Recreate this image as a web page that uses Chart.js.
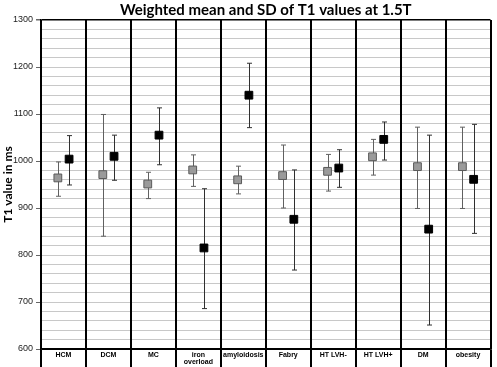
<!DOCTYPE html>
<html>
<head>
<meta charset="utf-8">
<script src="https://cdn.jsdelivr.net/npm/chart.js@4"></script>
<style>
  html, body { margin: 0; padding: 0; background: #fff; }
  #wrap { width: 497px; height: 367px; }
</style>
</head>
<body>
<div id="wrap"><canvas id="chart"></canvas></div>
<script>
// categories (x axis)
const categories = ['HCM', 'DCM', 'MC', ['iron', 'overload'], 'amyloidosis', 'Fabry', 'HT LVH-', 'HT LVH+', 'DM', 'obesity'];

// grey series: mean and SD range
const grayMean = [964, 971, 951, 981, 960, 969, 978, 1009, 988, 988];
const grayLow  = [925, 840, 920, 946, 930, 900, 936, 970, 899, 899];
const grayHigh = [998, 1099, 976, 1013, 989, 1034, 1014, 1046, 1072, 1072];

// black series: mean and SD range
const blackMean = [1004, 1010, 1055, 815, 1140, 876, 985, 1046, 855, 961];
const blackLow  = [949, 959, 992, 686, 1071, 768, 944, 1002, 651, 846];
const blackHigh = [1054, 1055, 1113, 941, 1208, 981, 1024, 1083, 1055, 1078];

// y axis
const yMin = 600;
const yMax = 1300;
const yStep = 20;

function toPoints(values, offset) {
    return values.map((v, i) => ({ x: i + offset, y: v }));
}

// error bars drawn through the chart's own scales
const errorBars = {
    id: 'errorBars',
    beforeDatasetsDraw(chart) {
        const ctx = chart.ctx;
        const xs = chart.scales.x;
        const ys = chart.scales.y;
        chart.data.datasets.forEach(ds => {
            ctx.save();
            ctx.strokeStyle = ds.errColor;
            ctx.lineWidth = 1;
            ds.data.forEach((p, i) => {
                const x = Math.round(xs.getPixelForValue(p.x)) + 0.5;
                const top = ys.getPixelForValue(ds.high[i]);
                const bot = ys.getPixelForValue(ds.low[i]);
                ctx.beginPath();
                ctx.moveTo(x, top);
                ctx.lineTo(x, bot);
                ctx.moveTo(x - 2.5, top);
                ctx.lineTo(x + 2.5, top);
                ctx.moveTo(x - 2.5, bot);
                ctx.lineTo(x + 2.5, bot);
                ctx.stroke();
            });
            ctx.restore();
        });
    }
};

new Chart(document.getElementById('chart'), {
    type: 'scatter',
    data: {
        datasets: [{
            label: 'grey',
            data: toPoints(grayMean, 0.375),
            low: grayLow,
            high: grayHigh,
            errColor: '#606060',
            pointStyle: 'rect',
            pointRadius: 5.5,
            pointHoverRadius: 5.5,
            backgroundColor: '#9a9a9a',
            borderColor: '#5a5a5a',
            borderWidth: 1
        }, {
            label: 'black',
            data: toPoints(blackMean, 0.625),
            low: blackLow,
            high: blackHigh,
            errColor: '#303030',
            pointStyle: 'rect',
            pointRadius: 5.5,
            pointHoverRadius: 5.5,
            backgroundColor: '#000000',
            borderColor: '#000000',
            borderWidth: 1
        }]
    },
    options: {
        responsive: true,
        maintainAspectRatio: false,
        animation: false,
        layout: { padding: { left: 0, right: 2, top: 0, bottom: 0 } },
        plugins: {
            legend: { display: false },
            tooltip: { enabled: false },
            title: {
                display: true,
                fullSize: false,
                text: 'Weighted mean and SD of T1 values at 1.5T',
                color: '#000',
                font: { family: 'Lato', size: 15, weight: 'bold' },
                padding: { top: 1, bottom: 1 }
            }
        },
        scales: {
            x: {
                type: 'linear',
                min: 0,
                max: categories.length,
                afterFit: s => { s.height = 18; },
                afterBuildTicks: s => {
                    s.ticks = [];
                    for (let v = 0; v <= categories.length; v += 0.5) s.ticks.push({ value: v });
                },
                border: { color: '#000', width: 1.5 },
                grid: {
                    z: -1,
                    color: c => (c.tick && Number.isInteger(c.tick.value)) ? '#000' : 'rgba(0,0,0,0)',
                    lineWidth: 2,
                    tickLength: 18
                },
                ticks: {
                    autoSkip: false,
                    maxRotation: 0,
                    padding: -16,
                    color: '#000',
                    font: { family: 'Liberation Sans', size: 7, weight: 'bold', lineHeight: 1.1 },
                    callback: v => Number.isInteger(v) ? '' : categories[Math.floor(v)]
                }
            },
            y: {
                min: yMin,
                max: yMax,
                afterFit: s => { s.width = 41; },
                border: { color: '#000', width: 1.5 },
                grid: {
                    z: -2,
                    color: c => (c.tick && (c.tick.value === yMax || c.tick.value === yMin)) ? '#000' : '#c8c8c8',
                    lineWidth: c => (c.tick && c.tick.value === yMax) ? 1.5 : 1,
                    tickColor: c => (c.tick && c.tick.value % 100 === 0) ? '#666' : 'rgba(0,0,0,0)',
                    tickLength: 5
                },
                ticks: {
                    stepSize: yStep,
                    autoSkip: false,
                    padding: 3,
                    color: '#222',
                    font: { family: 'Liberation Sans', size: 9 },
                    callback: v => v % 100 === 0 ? v : ''
                },
                title: {
                    display: true,
                    text: 'T1 value in ms',
                    color: '#000',
                    font: { family: 'Lato', size: 12, weight: 'bold' },
                    padding: { top: 1, bottom: 0 }
                }
            }
        }
    },
    plugins: [errorBars]
});
</script>
</body>
</html>
